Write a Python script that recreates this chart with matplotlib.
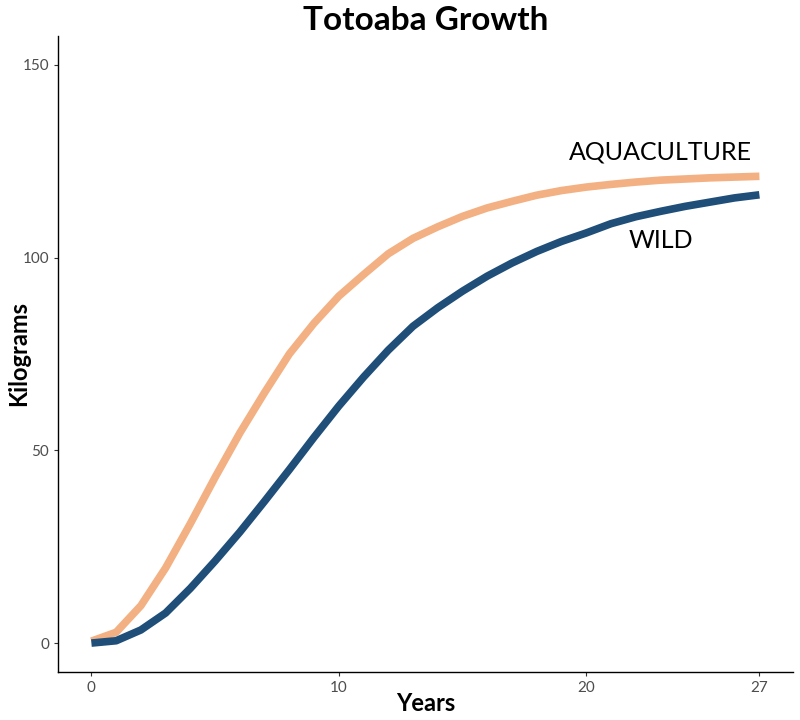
import matplotlib
matplotlib.use("Agg")
import matplotlib.pyplot as plt

# growth curves (kg per year of age)
years = list(range(28))
aquaculture = [0.5, 2.8, 9.7, 19.5, 31.0, 43.0, 54.5, 65.0, 75.0, 83.0,
               90.0, 95.6, 101.0, 105.0, 108.0, 110.7, 112.9, 114.6, 116.2, 117.4,
               118.3, 119.0, 119.6, 120.1, 120.4, 120.7, 120.9, 121.1]
wild = [0.0, 0.6, 3.4, 7.8, 14.2, 21.3, 28.8, 36.8, 45.0, 53.4,
        61.5, 69.0, 76.0, 82.2, 87.0, 91.3, 95.2, 98.6, 101.6, 104.2,
        106.4, 108.8, 110.6, 112.0, 113.3, 114.4, 115.5, 116.3]

x_ticks = [0, 10, 20, 27]
y_ticks = [0, 50, 100, 150]

orange = "#F3B082"
navy = "#1F4E79"
font = ["Lato", "DejaVu Sans"]
plt.rcParams["font.family"] = font

fig = plt.figure(figsize=(8, 7.2), dpi=100)
ax = fig.add_axes([0.0725, 0.0667, 0.9185, 0.8833])

ax.plot(years, aquaculture, color=orange, lw=5.5, solid_capstyle="butt", solid_joinstyle="round")
ax.plot(years, wild, color=navy, lw=5.5, solid_capstyle="butt", solid_joinstyle="round")

ax.text(23, 127.5, "AQUACULTURE", ha="center", va="center", fontsize=18, color="black")
ax.text(23, 104.5, "WILD", ha="center", va="center", fontsize=18, color="black")

ax.set_xlim(-1.35, 28.35)
ax.set_ylim(-7.5, 157.5)
ax.set_xticks(x_ticks)
ax.set_yticks(y_ticks)
ax.tick_params(labelsize=11, labelcolor="#4D4D4D", length=3, width=0.8, color="#333333")

for side in ["top", "right"]:
    ax.spines[side].set_visible(False)
for side in ["left", "bottom"]:
    ax.spines[side].set_linewidth(1.0)

ax.set_xlabel("Years", fontsize=17, fontweight="bold")
ax.set_ylabel("Kilograms", fontsize=17, fontweight="bold")
ax.xaxis.set_label_coords(0.5, -0.032)
ax.yaxis.set_label_coords(-0.038, 0.5)
ax.set_title("Totoaba Growth", fontsize=24, fontweight="bold", pad=4)

fig.savefig("out.png", dpi=100)
